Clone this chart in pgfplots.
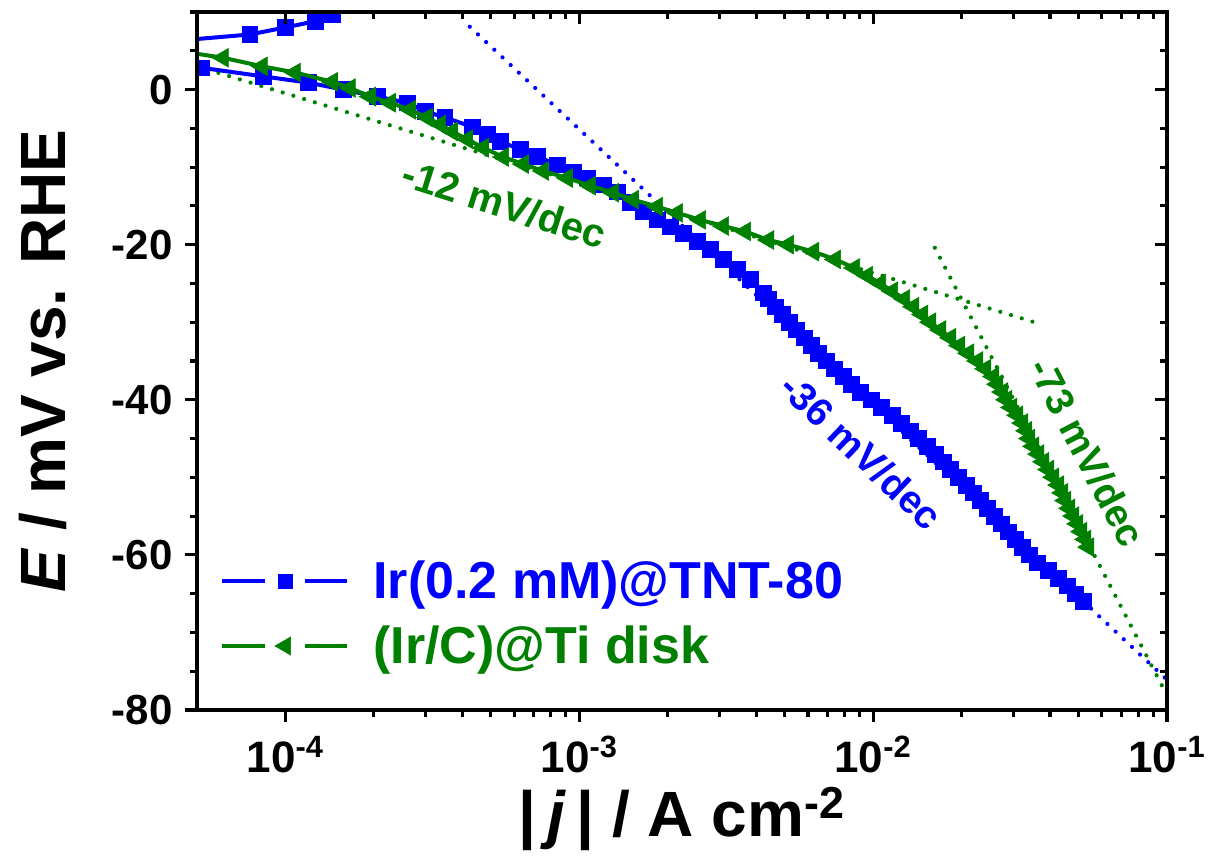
\documentclass[border=0pt]{standalone}
\usepackage{fontspec}
\setmainfont{Liberation Sans}
\usepackage{pgfplots}
\usepackage{pgfplotstable}
\pgfplotsset{compat=1.18}
\definecolor{myblue}{RGB}{0,0,255}
\definecolor{mygreen}{RGB}{0,128,0}

% Ir(0.2 mM)@TNT-80, main cathodic branch
\pgfplotstableread{
x E
5.20e-5 2.8
8.39e-5 1.7
1.194e-4 0.9
1.571e-4 0.0
2.05e-4 -0.9
2.594e-4 -1.7
2.99e-4 -2.8
3.49e-4 -3.6
4.32e-4 -4.8
4.86e-4 -5.8
5.38e-4 -6.7
6.29e-4 -7.7
7.19e-4 -8.6
8.41e-4 -9.7
9.53e-4 -10.6
1.064e-3 -11.4
1.206e-3 -12.3
1.346e-3 -13.2
1.49e-3 -14.5
1.65e-3 -15.7
1.84e-3 -16.8
2.04e-3 -17.7
2.26e-3 -18.5
2.52e-3 -19.6
2.79e-3 -20.6
3.09e-3 -21.9
3.45e-3 -23.2
3.82e-3 -24.5
4.23e-3 -26.2
4.40e-3 -27
4.65e-3 -28
4.91e-3 -29
5.18e-3 -30
5.48e-3 -31
5.83e-3 -32
6.16e-3 -33
6.51e-3 -34
6.93e-3 -35
7.38e-3 -36
7.92e-3 -37
8.43e-3 -38
9.04e-3 -39
9.86e-3 -40
1.066e-2 -41
1.162e-2 -42
1.247e-2 -43
1.338e-2 -44
1.425e-2 -45
1.530e-2 -46
1.628e-2 -47
1.734e-2 -48
1.832e-2 -49
1.950e-2 -50
2.076e-2 -51
2.194e-2 -52
2.317e-2 -53
2.448e-2 -54
2.586e-2 -55
2.732e-2 -56
2.886e-2 -57
3.049e-2 -58
3.221e-2 -59
3.402e-2 -60
3.623e-2 -61
3.949e-2 -62
4.272e-2 -63
4.583e-2 -64
4.880e-2 -65
5.196e-2 -66
}\bluemain

% Ir(0.2 mM)@TNT-80, upper branch
\pgfplotstableread{
x E
4.0e-5 6.2
7.57e-5 7.1
9.97e-5 8.0
1.261e-4 8.8
1.441e-4 9.7
1.66e-4 10.6
}\blueup

% (Ir/C)@Ti disk
\pgfplotstableread{
x E
4.73e-5 4.75
6.13e-5 4.1
8.32e-5 3.0
1.078e-4 2.2
1.442e-4 1.0
1.659e-4 0.2
1.941e-4 -0.9
2.270e-4 -1.7
2.656e-4 -2.6
3.035e-4 -3.6
3.362e-4 -4.5
3.692e-4 -5.4
4.153e-4 -6.4
4.707e-4 -7.5
5.51e-4 -8.7
6.44e-4 -9.6
7.54e-4 -10.5
9.09e-4 -11.4
1.089e-3 -12.4
1.305e-3 -13.3
1.526e-3 -14.2
1.842e-3 -15.1
2.154e-3 -15.9
2.580e-3 -16.8
3.090e-3 -17.6
3.672e-3 -18.3
4.40e-3 -19.4
5.14e-3 -20.0
6.26e-3 -20.9
7.43e-3 -21.9
8.63e-3 -23
9.55e-3 -24
1.058e-2 -25
1.162e-2 -26
1.277e-2 -27
1.371e-2 -28
1.471e-2 -29
1.566e-2 -30
1.694e-2 -31
1.832e-2 -32
1.966e-2 -33
2.109e-2 -34
2.264e-2 -35
2.410e-2 -36
2.566e-2 -37
2.648e-2 -38
2.754e-2 -39
2.841e-2 -40
2.955e-2 -41
3.097e-2 -42
3.221e-2 -43
3.323e-2 -44
3.402e-2 -45
3.511e-2 -46
3.651e-2 -47
3.797e-2 -48
3.949e-2 -49
4.108e-2 -50
4.272e-2 -51
4.408e-2 -52
4.513e-2 -53
4.656e-2 -54
4.804e-2 -55
4.958e-2 -56
5.115e-2 -57
5.278e-2 -58
5.404e-2 -59
}\greendata

\tikzset{dotline/.style={line width=2.1pt, line cap=round, dash pattern=on 0pt off 5.6pt}}

\begin{document}
\begin{tikzpicture}
\begin{axis}[
  scale only axis, width=485pt, height=349pt,
  xmode=log, xmin=5e-5, xmax=0.1, ymin=-80, ymax=10,
  axis line style={line width=2pt},
  major tick length=6pt, minor tick length=3.5pt,
  every tick/.style={black, line width=1.6pt},
  xtick={1e-4,1e-3,1e-2,1e-1},
  ytick={-80,-60,-40,-20,0},
  minor ytick={-75,-70,-65,-55,-50,-45,-35,-30,-25,-15,-10,-5,5,10},
  tick align=outside, xtick pos=bottom, ytick pos=left,
  xticklabels={10\textsuperscript{-4},10\textsuperscript{-3},10\textsuperscript{-2},10\textsuperscript{-1}},
  yticklabels={-80,-60,-40,-20,0},
  xticklabel style={font=\fontsize{22}{26}\selectfont\bfseries, inner sep=0pt, anchor=north, yshift=-7pt},
  yticklabel style={font=\fontsize{21}{25}\selectfont\bfseries, inner sep=0pt, anchor=east, xshift=-6pt},
  xlabel={|\,\textit{j}\,| / A cm\textsuperscript{-2}},
  ylabel={\textit{E} / mV vs. RHE},
  label style={font=\fontsize{32}{38}\selectfont\bfseries},
  xlabel style={at={(axis description cs:0.5,-0.11)}, anchor=north, inner sep=0pt},
  ylabel style={at={(axis description cs:-0.1588,0.5)}, anchor=center, inner sep=0pt},
  clip marker paths=true,
  legend style={draw=none, fill=none, at={(axis description cs:0.0237,0.062)}, anchor=south west,
    font=\fontsize{26}{31}\selectfont\bfseries, inner sep=0pt, row sep=12pt,
    nodes={inner sep=0pt},
    /tikz/every odd column/.append style={column sep=12pt}},
  legend cell align=left,
  legend image code/.code={
    \draw[#1, mark=none] (0pt,0pt) -- (21.5pt,0pt);
    \draw[#1, mark=none] (41.5pt,0pt) -- (62.5pt,0pt);
    \draw[#1] plot coordinates {(31.5pt,0pt)};
  },
]
\coordinate (bl) at (rel axis cs:0,0);
\coordinate (tr) at (rel axis cs:1,1);

% Tafel fit lines
\addplot[myblue, dotline, forget plot] coordinates {(4.24e-4,8.1) (0.1,-76.1)};
\addplot[mygreen, dotline, forget plot] coordinates {(5e-5,3.0) (0.0361,-30.1)};
\addplot[mygreen, dotline, forget plot] coordinates {(0.01622,-20.4) (0.1,-78.1)};

\addplot[myblue, line width=2pt, mark=square*, mark size=3.9pt, mark options={solid, line width=0.3pt}, forget plot] table {\blueup};
\addplot[myblue, line width=2pt, mark=square*, mark size=3.9pt, mark options={solid, line width=0.3pt},
  legend image post style={mark size=3.4pt}] table {\bluemain};
\addlegendentry[text=myblue]{Ir(0.2 mM)@TNT-80}
\addplot[mygreen, line width=2pt, mark=triangle*, mark size=5.4pt, mark options={solid, line width=0.3pt, rotate=90},
  legend image post style={mark size=5.2pt}] table {\greendata};
\addlegendentry[text=mygreen]{(Ir/C)@Ti disk}

\node[rotate=-17.6, text=mygreen, font=\fontsize{20}{24}\selectfont\bfseries] at (axis cs:5.57e-4,-14.8) {-12 mV/dec};
\node[rotate=-43.5, text=myblue, font=\fontsize{19.5}{24}\selectfont\bfseries] at (axis cs:9.12e-3,-46.7) {-36 mV/dec};
\node[rotate=-62.6, text=mygreen, font=\fontsize{19.5}{24}\selectfont\bfseries] at (axis cs:5.36e-2,-46.8) {-73 mV/dec};
\end{axis}
\begin{axis}[
  scale only axis, width=485pt, height=349pt,
  xmode=log, xmin=5e-5, xmax=0.1, ymin=-80, ymax=10,
  axis line style={line width=2pt},
  major tick length=6pt, minor tick length=3.5pt,
  every tick/.style={black, line width=1.6pt},
  xtick={1e-4,1e-3,1e-2,1e-1},
  ytick={-80,-60,-40,-20,0},
  minor ytick={-75,-70,-65,-55,-50,-45,-35,-30,-25,-15,-10,-5,5,10},
  tick align=inside, xtick pos=top, ytick pos=right,
  xticklabels={}, yticklabels={},
]
\end{axis}
\pgfresetboundingbox
\path[use as bounding box] ([shift={(-98.5pt,-75.5pt)}]bl) rectangle ([shift={(22pt,6pt)}]tr);
\end{tikzpicture}
\end{document}
